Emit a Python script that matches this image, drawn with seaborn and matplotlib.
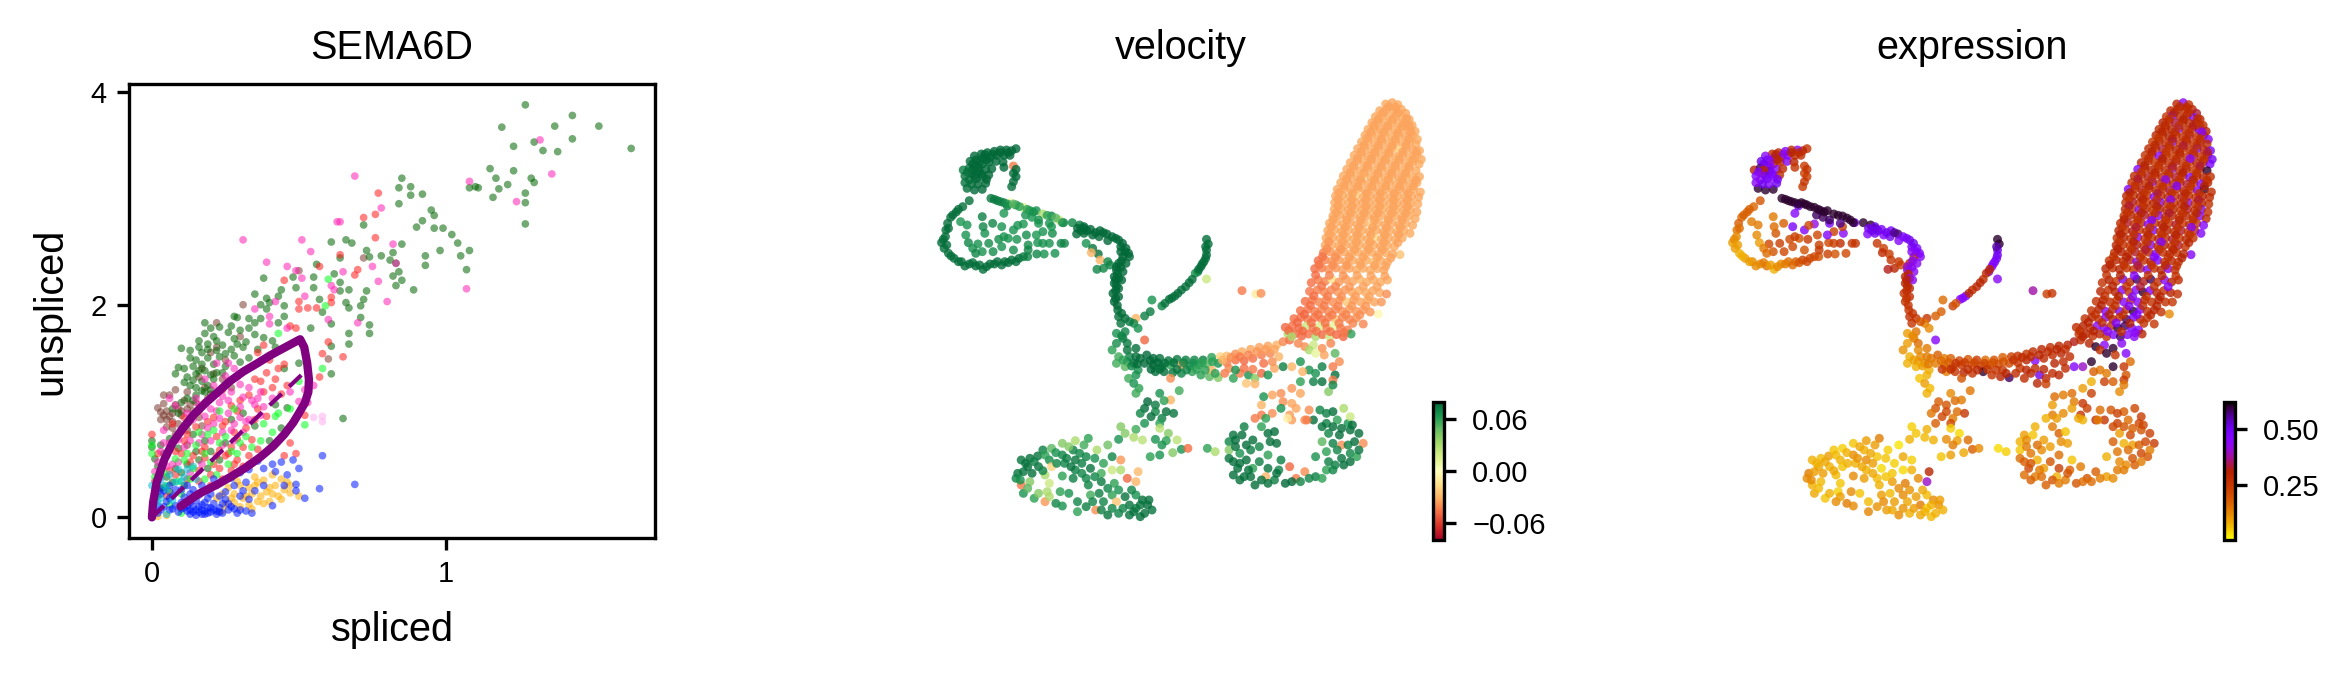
import numpy as np
import pandas as pd
import matplotlib
matplotlib.use("Agg")
import matplotlib.pyplot as plt
from matplotlib.cm import ScalarMappable
from matplotlib.colors import Normalize
import seaborn as sns

# phase portrait, one (spliced, unspliced) list per cell type
green_cells = [(1.27,3.88),(1.43,3.78),(1.19,3.67),(1.37,3.68),(1.52,3.68),(1.63,3.47),(1.23,3.49),(1.30,3.53),(1.43,3.56),(1.33,3.45),(1.38,3.44),(1.15,3.28),(1.23,3.26),(1.17,3.19),(1.29,3.19),(1.30,3.15),(1.21,3.13),(1.18,3.09),(1.08,3.10),(1.10,3.11),(1.11,3.10),(1.16,3.01),(1.27,3.05),(1.27,2.96),(1.27,2.76),
(.85,3.19),(.84,3.10),(.88,3.11),(.88,3.03),(.92,3.04),(.84,2.95),(.95,2.89),(.96,2.84),(.92,2.79),(.90,2.73),(.96,2.72),(.99,2.72),(1.02,2.66),(1.04,2.58),(1.08,2.51),(.98,2.51),(1.05,2.46),(.93,2.46),(.93,2.37),(1.07,2.33),(.72,2.75),(.85,2.57),(.82,2.49),(.73,2.51),(.74,2.45),(.78,2.46),(.81,2.42),(.83,2.39),(.84,2.31),(.82,2.27),(.85,2.23),(.83,2.18),(.89,2.14),
(.61,2.59),(.66,2.61),(.68,2.58),(.64,2.44),(.56,2.38),(.62,2.29),(.55,2.26),(.48,2.26),(.38,2.25),(.64,2.21),(.55,2.16),(.49,2.16),(.44,2.14),(.64,2.13),(.67,2.14),(.73,2.13),(.35,2.10),(.39,2.06),(.43,2.08),(.37,2.00),(.40,2.02),(.45,1.99),(.57,2.05),(.72,2.05),(.66,2.02),(.67,1.97),(.71,1.99),(.39,1.96),(.58,1.93),(.71,1.88),(.28,1.89),(.29,1.88),(.33,1.87),(.37,1.87),(.45,1.89),(.18,1.83),(.20,1.78),(.23,1.79),(.27,1.80),(.35,1.83),(.43,1.83),(.54,1.78),(.74,1.81),(.61,1.82),(.67,1.73),(.74,1.73),(.67,1.63),(.61,1.61),(.61,1.35),(.65,.93),
(.18,1.73),(.21,1.70),(.26,1.74),(.30,1.76),(.33,1.78),(.35,1.72),(.38,1.69),(.41,1.66),(.28,1.68),(.32,1.65),(.24,1.62),(.19,1.63),(.16,1.60),(.10,1.59),(.13,1.57),(.17,1.55),(.22,1.57),(.27,1.58),(.31,1.60),(.36,1.58),(.42,1.60),(.13,1.50),(.15,1.48),(.19,1.50),(.23,1.51),(.28,1.52),(.33,1.50),(.39,1.50),(.08,1.35),(.09,1.41),(.11,1.40),(.14,1.42),(.17,1.44),(.21,1.44),(.25,1.42),(.30,1.46),(.12,1.32),(.15,1.35),(.18,1.38),(.22,1.36),(.13,1.24),(.15,1.22),(.17,1.28),(.19,1.24),(.21,1.30),(.15,1.15),(.18,1.18),(.12,1.12),(.10,1.08),(.07,1.02),(.03,.68),(0,.66),(0,.72),(.01,.55),(.02,.48),(.06,.74),(.09,.65),(.14,.78),(.18,.72),(.16,.54),(.10,.42),(.07,.33),(.03,.27),(.20,.62),(.25,.70),(.42,1.06),(.46,1.03),(.45,1.40),(.50,1.45),
(.16,1.66),(.19,1.58),(.22,1.66),(.25,1.54),(.29,1.63),(.16,1.38),(.20,1.34),(.24,1.36),(.11,1.27),(.14,1.29),(.17,1.19),(.20,1.20),(.14,1.10),(.09,.98),(.12,.88),(.04,.60),(.08,.46),(.12,.50),(.15,.62),(.19,.46),(.23,.54),(.05,.38),(.02,.20),(.06,.24),(.11,.30),(.27,.92),(.31,.98),(.35,.86),(.40,.72),(.44,.84)]
pink_cells = [(.69,3.21),(1.08,3.16),(1.32,3.55),(1.36,3.23),(1.24,2.97),(.78,2.91),(.63,2.78),(.64,2.78),(.31,2.61),(.51,2.61),(.54,2.50),(.82,2.57),(.39,2.40),(.46,2.36),(.49,2.32),(.75,2.36),(.83,2.39),(.77,2.22),(1.07,2.15),(.80,2.03),(.51,2.25),(.61,2.18),(.65,2.31),(.62,2.14),(.52,2.08),(.42,2.03),(.35,1.96),(.40,1.89),(.60,1.86),(.70,1.83),(.40,1.82),(.46,1.78),
(.26,1.45),(.28,1.40),(.25,1.33),(.30,1.25),(.33,1.22),(.37,1.18),(.31,1.13),(.27,1.18),(.23,1.08),(.20,1.02),(.26,.98),(.30,1.04),(.35,1.06),(.41,1.12),(.47,1.18),(.52,1.20),(.55,1.24),(.50,1.09),(.53,1.08),(.37,.96),(.33,.92),(.28,.88),(.23,.93),(.18,.95),(.14,.92),(.10,.82),(.06,.70),(.04,.82),(.03,.62),(.01,.43),(.03,.38),(.07,.50),(.11,.66),(.16,.70),(.19,.84),(.24,.80),(.28,.72),(.31,.80),(.15,1.12),(.18,1.30),(.21,1.24),(.22,1.45),(.06,1.12),(.08,1.05),
(.29,1.32),(.34,1.10),(.24,1.14),(.21,.88),(.27,.82),(.32,.90),(.17,.78),(.13,.72),(.09,.73),(.05,.48),(.12,.98),(.16,1.06),(.20,.72),(.24,.68),(.09,.52),(.13,.42),(.17,.50),(.04,.70),(.02,.52),(.36,1.12),(.38,1.04),(.30,.94),(.26,1.10),(.22,1.00)]
red_cells = [(.77,3.05),(.72,2.82),(.76,2.85),(.76,2.63),(.64,2.47),(.70,2.33),(.69,2.28),(.57,2.36),(.45,2.23),(.61,2.07),(.61,2.02),(.50,2.03),(.50,1.96),(.53,1.97),(.56,1.97),(.49,1.78),(.47,1.80),(.60,1.65),(.58,1.54),(.65,1.51),(.57,1.32),(.45,1.44),(.43,1.40),(.47,.70),(.49,.60),(.45,.58),(.52,.96),(0,.78),
(.38,1.62),(.36,1.55),(.40,1.48),(.46,1.24),(.42,1.30),(.39,1.36),(.37,1.28),(.41,1.22),(.44,1.16),(.38,1.18),(.35,1.30),(.33,1.15),(.30,1.10),(.27,1.05),(.36,1.02),(.39,.95),(.32,.84),(.28,.80),(.24,.86),(.22,.76),(.19,.90),(.15,.85),(.12,.78),(.10,.60),(.13,.52),(.18,.56),(.21,.50),(.25,.58),(.29,.54),(.33,.58),(.31,.48),(.27,.44),(.23,.63),(.20,.40),(.16,.44),(.08,.40),(.05,.58),(.02,.60),(.01,.34),(.05,.20),(.27,.66),(.34,.73),(.07,.88),(.16,1.00),(.24,1.20),(.11,.94),
(.21,.94),(.25,.90),(.29,.74),(.26,.60),(.22,.58),(.18,.66),(.14,.58),(.11,.72),(.08,.62),(.06,.44),(.12,.36),(.16,.34),(.20,.30),(.24,.36),(.28,.50),(.33,.50),(.36,.64),(.31,.66),(.35,.92),(.29,1.00),(.18,1.08),(.14,.96),(.23,.46),(.17,.62)]
brown_cells = [(.31,2.00),(.50,2.32),(.72,2.44),(.60,1.49),(.22,1.83),(.04,1.07),(.02,1.03),(.03,.99),(.05,1.00),(.07,.98),(.09,1.02),(.06,1.15),(.04,1.15),(.08,1.20),(.05,.92),(.07,.90),(.09,.88),(.05,.85),(.03,.92),(.11,1.10),(.13,1.06),(.14,1.00),(.10,.96),(.12,1.18),(.17,1.40),(.20,1.55),(.22,1.60),(.25,1.48),(.16,.94),(.19,1.12),(.27,1.22),(.30,1.70),(.12,.68),(.08,.78),(.04,.28),
(.06,.95),(.08,1.06),(.10,1.00),(.12,1.02),(.15,1.08),(.18,1.22),(.21,1.35),(.16,1.32),(.04,.96),(.07,.84),(.13,.90),(.17,.86),(.20,1.16),(.24,1.30),(.12,.82)]
lime_cells = [(.58,1.40),(.59,1.99),(.60,2.24),(.52,.87),(.43,1.73),(0,.68),(0,.60),(.01,.38),(.04,.42),(.08,.55),(.12,.60),(.15,.68),(.19,.78),(.23,.70),(.27,.62),(.30,.70),(.34,.66),(.37,.72),(.38,.88),(.41,.80),(.43,.98),(.47,1.02),(.50,1.28),(.42,.95),(.26,.50),(.22,.40),(.18,.36),(.13,.36),(.10,.22),(.06,.12),(.10,.04),(.28,1.02),(.23,1.00),(.16,.80),
(.21,.82),(.25,.76),(.18,.60),(.14,.46),(.09,.34),(.29,.60),(.32,.76),(.11,.54),(.05,.30),(.20,.52)]
gold_cells = [(.30,.30),(.33,.28),(.36,.33),(.39,.24),(.42,.30),(.44,.36),(.45,.26),(.43,.20),(.40,.15),(.37,.20),(.34,.22),(.31,.18),(.28,.22),(.26,.28),(.28,.14),(.30,.10),(.33,.12),(.36,.15),(.25,.12),(.47,.23),(.50,.20),(.41,.40),(.46,.33),(.35,.38),(.24,.06),(.22,.18),(.29,.34),(.05,.02),(.02,.01),(.38,.13),
(.32,.20),(.35,.30),(.38,.35),(.41,.22),(.44,.17),(.47,.30),(.27,.18),(.24,.22),(.34,.08),(.40,.28)]
blue_cells = [(.58,.58),(.69,.31),(.57,.27),(.52,.18),(.50,.46),(.48,.54),(.49,.25),(.49,.31),(.41,.11),(.34,.04),(.41,.50),(.38,.46),(.42,.43),(.46,.40),(.44,.52),(.36,.53),(.33,.45),(.30,.42),(.27,.37),(.32,.33),(.35,.25),(.38,.30),(.45,.30),(.31,.25),(.28,.30),(.25,.24),(.22,.30),(.19,.26),(.17,.30),(.14,.26),(.12,.30),(.10,.14),(.08,.26),(.06,.18),(.04,.10),(.02,.04),(0,.02),(.01,.16),(.03,.22),(.07,.08),(.09,.05),(.11,.09),(.13,.03),(.14,.10),(.16,.05),(.17,.12),(.18,.03),(.19,.09),(.20,.05),(.21,.13),(.22,.03),(.23,.09),(.24,.04),(.25,.17),(.26,.07),(.27,.10),(.29,.04),(.30,.07),(.32,.06),(.15,.16),(.19,.18),(.13,.14),(.16,.21),(.11,.19),(.06,.30),(.02,.28),(.33,.17),(.21,.36),(.12,.06),(.15,.02),(.17,.07),
(.13,.07),(.15,.07),(.16,.10),(.18,.06),(.19,.04),(.20,.09),(.21,.07),(.22,.06),(.23,.05),(.17,.03),(.14,.05),(.12,.11),(.10,.08),(.08,.11),(.06,.07),(.05,.15),(.03,.07),(.02,.11),(.01,.05),(.24,.13),(.26,.13),(.28,.08),(.30,.20),(.18,.14),(.20,.22),(.23,.20),(.10,.26),(.13,.22),(.07,.20),(.04,.25)]
teal_cells = [(0,.30),(.01,.24),(.02,.14),(.03,.36),(.04,.30),(.06,.40),(.09,.45),(.11,.38),(.12,.45),(.05,.03),(.15,.36),(.08,.33),(.14,.48),(.03,.18),(.05,.26),(.07,.16),(.10,.34),(.02,.34)]
pale_cells = [(.58,.95),(.55,.94),(.58,.90),(.52,1.08)]

cell_colors = {"brown": "#7a3b2e", "green": "darkgreen", "red": "#ff1a1a", "pink": "#ff1fb4", "lime": "#00ff1a",
               "gold": "#ffae00", "blue": "#0018ff", "teal": "#00bcd4", "pale": "#ffb0f0"}

# learned dynamics of the gene
fit_spliced = [0,.004,.016,.043,.07,.103,.14,.184,.225,.265,.31,.359,.40,.44,.504,.518,.528,.534,.532,.52,.50,.48,.45,.413,.37,.319,.27,.224,.157,.097]
fit_unspliced = [0,.14,.33,.55,.70,.83,.96,1.08,1.18,1.28,1.37,1.45,1.52,1.58,1.675,1.60,1.45,1.295,1.18,1.076,.98,.889,.78,.671,.57,.468,.385,.312,.218,.103]
steady_spliced = [0,.52]
steady_unspliced = [0,1.37]

# umap cells: (umap1, umap2, velocity x1000, expression x100), umap2 runs downward
tip_cells = [(1122,72,-33,30),(1137,68,-34,44),(1150,74,-32,27),(1108,92,-33,29),(1124,88,-34,31),(1141,90,-33,27),(1158,88,-33,30),(1168,100,-34,33),
(1098,110,-33,26),(1113,106,-32,45),(1130,110,-33,29),(1146,106,-34,28),(1160,112,-33,46),(1176,118,-33,30),(1090,128,-33,31),(1104,124,-34,28),(1119,128,-33,34),(1136,126,-32,27),(1151,130,-33,29),(1167,128,-34,31),(1183,136,-33,27),
(1081,148,-33,29),(1096,144,-33,26),(1110,148,-34,30),(1127,146,-33,44),(1143,150,-33,29),(1159,146,-32,27),(1174,150,-33,48),(1190,154,-33,31),(1074,166,-33,30),(1089,164,-34,27),(1104,168,-33,31),(1120,165,-31,26),(1136,170,-33,28),(1152,166,-33,33),(1168,170,-34,27),(1184,166,-33,30),(1195,178,-33,46),
(1066,186,-33,25),(1081,184,-33,31),(1097,188,-33,28),(1113,185,-34,44),(1129,189,-33,26),(1145,186,-32,30),(1161,190,-33,27),(1177,187,-33,32),(1192,192,-33,28),(1057,206,-33,29),(1073,204,-34,27),(1089,208,-33,33),(1105,205,-33,27),(1121,209,-33,31),(1137,205,-33,25),(1153,210,-22,28),(1169,206,-33,46),(1185,210,-34,30),(1200,212,-33,48),
(1049,226,-33,27),(1065,224,-33,30),(1081,228,-34,45),(1097,225,-33,28),(1113,229,-33,26),(1129,225,-33,31),(1145,230,-32,27),(1161,226,-33,34),(1177,230,-33,28),(1193,226,-33,31),(1204,238,-33,49),(1040,248,-33,30),(1056,244,-34,28),(1072,248,-33,26),(1088,245,-33,31),(1104,249,-33,27),(1120,245,-34,33),(1136,250,-33,27),(1152,246,-33,25),(1168,250,-33,31),(1184,246,-32,29),(1199,252,-33,47),
(1032,268,-33,45),(1048,266,-33,28),(1064,270,-33,31),(1080,266,-34,26),(1096,270,-33,29),(1112,266,-33,44),(1128,271,-33,28),(1144,267,-33,32),(1160,271,-33,26),(1176,267,-34,30),(1192,272,-33,60),(1024,288,-33,29),(1040,286,-34,27),(1056,290,-33,32),(1072,286,-22,26),(1088,291,-33,30),(1104,287,-33,27),(1120,291,-33,33),(1136,287,-33,27),(1152,292,-34,48),(1168,288,-33,28),(1184,292,-33,31),(1200,290,-33,27),
(1018,308,-33,27),(1034,306,-33,31),(1050,310,-34,27),(1066,306,-33,44),(1082,311,-33,28),(1098,307,-33,26),(1114,311,-33,31),(1130,307,-32,28),(1146,312,-33,33),(1162,308,-33,26),(1178,312,-33,46),(1194,308,-33,29),(1010,328,-33,46),(1026,326,-33,28),(1042,330,-33,32),(1058,326,-34,26),(1074,331,-33,29),(1090,327,-33,27),(1106,331,-33,34),(1122,327,-33,27),(1138,332,-33,30),(1154,328,-33,26),(1170,332,-34,46),(1186,328,-33,60),(1202,336,-33,28),
(1006,348,-33,30),(1022,346,-33,27),(1038,350,-33,31),(1054,346,-22,27),(1070,351,-33,45),(1086,347,-33,27),(1102,351,-34,30),(1118,347,-33,26),(1134,352,-33,32),(1150,348,-33,28),(1166,352,-33,26),(1182,348,-33,31),(1198,352,-34,29),(1004,368,-33,27),(1020,366,-33,33),(1036,370,-33,28),(1052,366,-33,26),(1068,371,-34,31),(1084,367,-33,47),(1100,371,-33,28),(1116,367,-33,26),(1132,372,-33,30),(1148,368,-33,44),(1164,372,-34,27),(1180,368,-33,31),(1196,372,-33,27),
(1003,388,-33,29),(1019,386,-33,27),(1035,390,-34,45),(1051,386,-33,30),(1067,391,-33,26),(1083,387,-33,32),(1099,391,-33,27),(1115,387,-32,30),(1131,392,-33,26),(1147,388,-33,33),(1163,392,-33,27),(1179,388,-33,48),(1194,396,-34,27),(1000,408,-33,26),(1016,406,-34,31),(1032,410,-33,27),(1048,406,-33,33),(1064,411,-33,27),(1080,407,-33,46),(1096,411,-34,28),(1112,407,-33,31),(1128,412,-33,26),(1144,408,-33,30),(1160,412,-33,27),(1176,408,-33,46),(1190,416,-33,29),
(992,430,-33,28),(1008,428,-33,33),(1024,432,-33,26),(1040,428,-34,30),(1056,433,-33,44),(1072,429,-33,27),(1088,433,-22,31),(1104,429,-33,27),(1120,434,-33,33),(1136,430,-33,26),(1152,434,-34,30),(1168,430,-33,27),(1184,436,-33,45),(988,452,-33,30),(1004,450,-33,27),(1020,454,-34,32),(1036,450,-33,26),(1052,455,-33,29),(1068,451,-33,46),(1084,455,-33,27),(1100,451,-33,31),(1116,456,-34,27),(1132,452,-33,33),(1148,456,-33,26),(1164,452,-33,30),(1178,460,-33,46),
(984,474,-33,27),(1000,472,-34,31),(1016,476,-33,27),(1032,472,-33,45),(1048,477,-33,28),(1064,473,-33,26),(1080,477,-33,31),(1096,473,-20,28),(1112,478,-33,33),(1128,474,-33,26),(1144,478,-33,30),(1160,474,-33,27),(982,496,-33,30),(998,494,-33,27),(1014,498,-33,26),(1030,494,-34,32),(1046,499,-33,27),(1062,495,-33,45),(1078,499,-33,28),(1094,495,-33,31),(1110,500,-34,27),(1126,496,-33,33),(1142,500,-33,26),(1155,524,-26,46),
(978,518,-42,27),(994,516,-38,31),(1010,520,-36,27),(1026,516,-34,33),(1042,521,-33,27),(1058,517,-33,30),(1074,521,-33,45),(1090,517,-33,27),(1106,522,-33,31),(1122,518,-33,26),(1138,522,-34,30),(966,542,-48,26),(982,540,-42,30),(998,544,-38,27),(1014,540,-36,32),(1030,545,-34,44),(1046,541,-33,27),(1062,545,-33,31),(1078,541,-33,48),(1094,546,-26,27),(1110,542,-33,30),(1126,546,-33,27),
(958,566,-48,30),(974,564,-44,27),(990,568,-40,31),(1006,564,-38,26),(1022,569,-36,27),(1038,565,-34,33),(1054,569,-33,48),(1070,565,-33,27),(1086,570,-33,31),(1102,566,-33,45),(1118,570,-34,27),(950,608,-48,27),(966,600,-44,31),(982,604,-42,26),(998,598,-16,48),(1014,606,-38,30),(1030,598,-36,58),(1046,604,-34,32),(1062,598,-30,58),(1078,606,-33,27),(1094,600,-33,44),(1110,606,-33,31),(1126,600,-33,28),
(946,634,-46,30),(964,630,-44,27),(980,636,-42,31),(996,630,-42,46),(1012,636,-38,27),(1028,630,-38,45),(1044,636,-34,60),(1060,632,-33,46),(1076,638,-33,30),(1092,632,-34,27),(1108,638,-33,31),(1124,642,-40,27),(936,664,-48,27),(952,660,-44,31),(968,666,-42,28),(984,660,-42,27),(1000,666,-40,45),(1016,660,-40,27),(1032,666,-24,46),(1048,660,-36,30),(1064,666,-34,27),(1080,660,-33,31),(1096,666,-34,27),(1112,666,-38,26),(1105,702,-4,12),
(925,692,-48,27),(942,688,-46,31),(958,694,-44,45),(974,688,-42,30),(990,694,-42,47),(1006,688,-42,28),(1022,694,-40,60),(1038,688,-38,46),(1054,694,-38,27),(1070,690,-38,31),(1086,696,-38,27),(910,716,-48,27),(926,712,-48,30),(942,718,-46,27),(958,712,-46,46),(974,718,-46,31),(990,712,-44,27),(1006,718,-28,58),(1022,712,-42,47),(1038,718,-42,30),(1054,714,-40,27),(1070,732,-42,26),
(890,742,-50,28),(906,738,-48,31),(922,744,-50,27),(938,738,20,44),(954,744,-46,46),(970,738,15,28),(986,744,-44,60),(1002,738,10,58),(1018,744,-46,48),(1034,750,-44,46),(1042,762,60,30),(896,762,30,27),(912,762,-50,31),(928,768,-50,27),(944,762,-48,30),(960,770,30,27),(976,764,-50,46),(992,770,20,58),(1008,764,-50,46),(1024,770,-50,44)]
tip_extra = [(1129,80,-35,28),(1145,82,-35,29),(1116,98,-35,30),(1150,98,-35,28),(1105,117,-35,27),(1138,118,-35,31),(1170,116,-35,28),(1095,136,-35,29),(1127,137,-35,27),(1160,138,-35,32),(1176,138,-35,27),(1088,155,-35,30),(1118,156,-35,28),(1150,158,-35,27),(1180,156,-35,44),(1080,174,-35,26),(1112,176,-35,31),(1144,178,-35,28),(1176,176,-35,27),
(1072,195,-35,29),(1105,196,-35,27),(1137,197,-35,33),(1169,196,-35,28),(1065,215,-35,30),(1097,216,-35,26),(1129,217,-35,29),(1161,216,-35,27),(1193,216,-35,33),(1057,235,-35,28),(1089,236,-35,31),(1121,237,-35,27),(1153,236,-35,44),(1185,238,-35,27),(1048,257,-35,31),(1080,256,-35,27),(1112,258,-35,30),(1144,257,-35,27),(1176,258,-35,33),
(1040,277,-35,27),(1072,278,-35,30),(1104,279,-35,27),(1136,278,-35,31),(1168,279,-35,27),(1032,297,-35,33),(1064,298,-35,27),(1096,299,-35,44),(1128,298,-35,27),(1160,299,-35,30),(1192,300,-35,27),(1026,317,-35,27),(1058,318,-35,31),(1090,319,-35,27),(1122,318,-35,46),(1154,319,-35,27),(1186,318,-35,31),
(1014,338,-35,31),(1046,339,-35,27),(1078,340,-35,33),(1110,339,-35,27),(1142,340,-35,30),(1174,340,-35,27),(1012,358,-35,27),(1044,359,-35,30),(1076,360,-35,27),(1108,359,-35,44),(1140,360,-35,27),(1172,360,-35,33),(1012,378,-35,33),(1044,379,-35,27),(1076,380,-35,30),(1108,379,-35,27),(1140,380,-35,31),(1172,380,-35,27),
(1008,398,-35,27),(1040,399,-35,31),(1072,400,-35,27),(1104,399,-35,33),(1136,400,-35,27),(1168,400,-35,30),(1000,419,-35,31),(1032,420,-35,27),(1064,421,-35,46),(1096,420,-35,27),(1128,421,-35,30),(1160,420,-35,27),(996,441,-35,27),(1028,442,-35,33),(1060,443,-35,27),(1092,442,-35,31),(1124,443,-35,27),(1156,442,-35,44),
(992,463,-35,31),(1024,464,-35,27),(1056,465,-35,30),(1088,464,-35,27),(1120,465,-35,31),(1152,464,-35,27),(990,485,-38,27),(1022,486,-35,31),(1054,487,-35,27),(1086,486,-35,46),(1118,487,-35,27),(1150,488,-35,30),(986,507,-40,31),(1018,508,-37,27),(1050,509,-35,33),(1082,508,-35,27),(1114,509,-35,30),(976,530,-46,27),(1006,531,-40,31),(1038,532,-36,27),(1070,531,-35,46),(1102,532,-35,27),(1134,534,-35,31),
(968,554,-46,31),(1000,555,-40,27),(1032,556,-37,33),(1064,555,-35,27),(1096,556,-35,30),(1122,558,-35,27),(960,585,-48,27),(992,586,-42,31),(1024,587,-38,46),(1056,586,-35,27),(1088,587,-35,31),(1120,588,-35,27),(974,618,-46,31),(1006,619,-42,27),(1038,620,-38,33),(1070,619,-35,27),(1102,620,-35,46),(956,648,-48,27),(988,649,-44,31),(1020,650,-40,46),(1052,649,-36,27),(1084,650,-35,31),
(948,676,-48,31),(980,677,-44,27),(1012,678,-42,46),(1044,677,-38,27),(1076,678,-38,30),(934,703,-50,27),(966,704,-46,31),(998,705,-44,27),(1030,704,-42,46),(1062,705,-40,30),(918,727,-50,31),(950,728,-48,27),(982,729,-46,46),(1014,730,-44,31),(1046,730,-42,27),(898,752,-50,27),(930,753,-50,31),(962,754,-48,46),(994,755,-48,27),(1026,758,-46,44)]
head_cells = [(268,206,80,26),(258,212,80,30),(246,210,80,44),(232,210,80,28),(218,214,80,46),(202,218,80,30),(188,222,80,28),(172,228,80,44),(162,244,78,50),(176,240,80,48),(192,234,80,46),(208,232,80,30),(224,226,80,44),(240,226,80,26),(254,226,80,28),(146,270,72,30),(160,264,76,58),(175,258,80,46),(190,252,80,30),(206,246,80,28),(222,244,80,46),(238,246,78,30),(262,258,-45,25),(150,288,76,46),(166,280,80,28),(182,274,80,60),(198,268,80,46),(212,266,80,28),(240,262,80,26),(262,280,78,24),(268,290,80,24),(160,300,78,44),(176,296,80,50),(190,290,80,48),(205,285,80,28),(262,305,78,26),(258,320,78,25),(155,325,78,60),(172,330,80,60),(190,328,80,60),(198,310,80,50),(180,312,80,46),
(196,224,80,30),(214,222,80,44),(232,218,80,30),(250,218,80,28),(184,246,80,44),(200,240,80,30),(168,252,80,50),(182,264,80,46),(168,270,80,30),(156,276,76,46),(172,288,80,48),(188,282,80,46),(165,312,78,50),(200,298,80,48),(268,268,80,26),(150,308,76,44)]
ring_cells = [(160,362,78,20),(145,380,78,17),(130,396,78,18),(117,412,78,17),(110,430,78,18),(106,450,78,15),(105,470,78,12),(96,488,78,10),(102,505,78,10),(112,520,78,8),(125,535,78,10),(142,545,78,12),(160,552,78,13),(175,558,78,15),(192,568,78,8),(208,552,78,12),(225,545,78,16),(242,545,78,18),(258,540,78,24),(275,535,78,22),(295,530,70,20),(316,522,70,24),(333,522,66,20),(358,520,66,22),(372,490,70,26),(345,490,66,28),(318,488,66,22),(296,495,68,24),(270,478,66,25),(250,475,66,20),(228,478,68,22),(205,490,68,24),(180,492,66,22),(158,488,70,10),(152,465,66,12),(196,460,66,20),(214,430,70,18),(192,440,70,16),(190,410,72,14),(155,435,66,14),(140,425,64,14),(240,400,64,45),(235,440,66,48),(262,450,66,46),(285,432,64,42),(272,436,66,22),(320,430,64,48),(330,455,66,24),(352,460,68,44),(378,428,70,48),(315,465,64,46),(350,440,64,24),(292,465,68,22),(235,500,66,22),(262,510,68,20),(190,515,66,20),(215,515,68,22),(296,510,70,25),(168,505,66,14),
(135,388,78,18),(122,405,78,18),(112,445,78,16),(100,478,78,12),(108,495,78,10),(118,528,78,8),(135,545,78,10),(150,558,78,12),(168,548,78,14),(184,555,78,10),(200,560,78,12),(218,552,78,14),(235,555,78,16),(250,548,78,20),(268,545,78,22),(285,530,74,22),(380,490,70,26),(330,490,66,24),(240,470,66,24),(175,520,70,16)]
band_cells = [(210,355,74,60),(225,362,76,60),(240,368,74,60),(255,368,5,60),(268,375,70,60),(285,382,15,60),(300,392,70,60),(315,392,66,60),(330,402,30,60),(350,408,70,60),(368,420,20,60),(248,378,74,50),(290,405,66,58),(320,420,66,58),(345,430,66,56),(305,412,64,58),(375,428,66,60),(398,428,70,60),(415,435,74,60),(425,445,78,60),(218,358,74,60),(232,365,72,60),(248,372,66,60),(262,372,50,60),(276,380,60,60),(294,388,60,60),(308,396,66,60),(340,406,60,60),(360,414,50,60)]
neck_cells = [(410,445,80,50),(425,440,80,50),(440,448,80,48),(408,462,80,46),(425,460,80,50),(445,465,80,46),(462,452,80,48),(478,462,80,58),(460,470,80,50),(490,470,80,48),(505,480,80,50),(480,482,80,46),(510,500,80,48),(520,515,80,48),(530,530,80,45),(515,530,80,28),(522,550,80,44),(505,550,80,30),(500,570,80,46),(515,575,80,44),(495,590,80,30),(512,600,80,44),(495,610,80,30),(505,625,80,30),(492,640,80,26),(505,650,80,28),(495,665,80,26),(503,690,78,26),(505,710,78,27),(520,715,78,26),(510,730,76,26),(430,490,66,26),(445,505,76,24),(458,522,78,25),(462,540,-30,26),(480,545,70,26),(470,565,70,30),(455,568,70,32),(485,555,70,24),(442,518,-30,28),
(432,452,80,50),(418,452,80,50),(452,458,80,50),(470,458,80,56),(498,475,80,48),(514,490,80,50),(522,505,80,48),(510,515,80,45),(528,520,80,46),(512,542,80,44),(500,560,80,40),(510,562,80,44),(502,582,80,30),(505,595,80,40),(498,600,80,30),(500,618,80,30),(498,632,80,28),(502,676,80,26),(498,655,80,26),(512,700,78,26)]
branch_cells = [(708,478,78,60),(712,492,78,60),(708,510,78,50),(708,525,78,50),(702,545,78,48),(695,560,78,46),(688,575,78,48),(682,580,66,28),(708,597,20,44),(675,598,78,28),(660,620,78,30),(650,630,78,28),(635,648,76,46),(622,658,78,46),(605,678,70,24),(582,660,66,16),(578,695,74,18),(565,708,72,18),(545,715,-30,26),(540,730,70,14),(550,745,66,12),(530,725,74,20),(706,500,78,55),(706,535,78,48),(698,552,78,46),(690,568,78,30),(668,608,78,30),(642,640,78,30),(628,654,78,46),(612,670,76,20)]
junction_cells = [(500,760,66,10),(520,755,70,15),(515,775,74,14),(500,790,68,10),(525,790,74,16),(490,810,60,11),(525,810,76,12),(545,805,78,14),(505,830,56,8),(525,845,66,10),(500,850,56,8),(540,850,78,12),(555,835,78,15),(565,780,-50,45),(520,860,50,8),(550,870,66,8),(530,830,70,12),(545,830,78,14),(515,840,60,10),(535,858,70,10),(548,852,78,14),(512,768,70,12)]
arc_cells = [(570,825,80,18),(585,835,80,14),(600,835,78,18),(620,842,76,22),(640,838,74,20),(660,840,72,24),(680,840,70,16),(700,840,72,20),(720,832,60,18),(740,830,-20,24),(755,828,-28,26),(775,822,-40,26),(790,815,-32,28),(810,808,-34,30),(830,802,-35,28),(850,798,-34,30),(870,795,-30,30),(885,785,-42,32),(900,780,-48,28),
(565,850,80,14),(585,855,80,16),(605,860,78,24),(625,855,60,26),(650,855,-36,22),(670,858,70,24),(690,855,60,20),(710,852,50,22),(735,850,66,22),(755,848,-45,26),(775,840,-48,30),(795,842,-50,45),(815,835,-48,28),(835,825,-45,28),(855,820,-42,30),(875,830,-30,28),
(590,875,78,14),(610,875,78,26),(630,878,76,30),(650,880,70,26),(675,875,60,60),(695,885,60,26),(715,890,50,30),(735,893,40,58),(750,880,-45,28),(770,895,60,28),(785,880,-45,30),(805,885,66,50),(820,895,40,30),(835,880,-50,28),(850,885,66,30),(865,865,-35,28),(885,860,72,46),(905,860,-30,40),(720,870,-30,26),(625,895,-40,20),(760,865,-42,26),(800,910,-25,30),(820,912,-30,24),
(905,770,30,30),(920,790,-42,30),(935,800,-40,60),(955,795,20,44),(975,805,-40,60),(995,790,-42,44),(925,845,66,60),(945,810,30,28),(960,820,10,60),(980,825,-35,26),(1005,820,50,46),(1015,845,-40,16),(1000,860,-45,26),(945,870,66,15),(975,860,72,60),(930,875,-30,18),(960,880,66,14),(1005,885,78,20),(975,905,78,18),(955,905,72,24),(1000,900,-45,25),(990,935,40,12),(1000,915,70,14),
(578,842,80,16),(595,848,80,18),(612,850,78,26),(632,848,76,24),(655,848,70,22),(678,850,66,22),(698,848,60,20),(722,845,60,20),(745,840,-30,26),(765,832,-40,28),(785,830,-45,28),(805,825,-42,30),(825,815,-38,28),(845,808,-36,30),(865,808,-34,28),(580,868,80,26),(600,868,78,28),(640,868,76,28),(662,870,70,30),(685,868,60,26),(705,870,60,26),(728,880,60,30),(775,870,66,30),(795,865,-48,28),(815,868,-45,30),(840,850,-48,30),(860,845,-40,28)]
mid_cells = [(528,895,56,6),(545,885,66,8),(540,910,66,10),(552,925,60,7),(545,940,56,8),(625,960,-30,14),(645,932,56,15),(600,940,66,12),(572,965,80,18),(590,975,74,20),(610,962,60,16),(565,985,78,20),(590,995,70,22),(615,995,78,16),(632,1000,76,26),(555,1000,70,15),(580,1010,78,22),(605,1015,72,14),(565,1030,66,18),(600,1030,60,22),(510,1040,40,5),(545,1048,56,8),(520,1060,40,6),(505,1078,66,8),(540,1072,30,7),(560,1080,25,8),(600,1045,26,5),(620,1060,40,4),(590,1078,66,12),(615,1082,60,10),(640,1080,25,16),(605,1095,66,14),(650,1108,66,18),(665,1105,-48,12),(630,1118,40,9),(600,1125,66,10),(578,1130,60,6),(710,1105,60,4),(728,1115,30,5),(790,632,-45,38),(822,642,-10,24),(834,640,-40,26)]
south_cells = [(272,1180,76,14),(268,1195,70,12),(280,1140,76,8),(300,1135,78,7),(318,1128,76,10),(330,1110,72,6),(350,1105,50,5),(375,1090,40,6),(405,1082,30,10),(435,1075,60,14),(425,1095,56,10),(400,1110,72,8),(375,1125,70,12),(345,1140,68,8),(320,1160,76,8),(295,1160,78,9),(305,1180,78,10),(335,1185,30,7),(350,1160,-20,6),(380,1150,70,8),(405,1140,76,12),(430,1130,70,6),(455,1110,30,5),(480,1095,45,3),(490,1130,70,9),(470,1150,60,5),(440,1165,76,4),(405,1170,72,8),(375,1188,60,12),(400,1195,72,10),(430,1195,70,7),(465,1180,56,6),(490,1170,20,4),(510,1140,-38,5),(510,1170,30,8),(550,1175,-28,30),(525,1195,-50,12),(545,1205,-30,40),(495,1210,60,14),(465,1205,74,10),(435,1215,70,8),(460,1240,72,7),(490,1245,60,12),(520,1250,76,10),(545,1245,66,7),(470,1265,70,10),(500,1265,-25,9),(530,1275,76,14),(560,1260,78,12),(572,1275,78,11),(582,1290,76,8),(555,1310,78,7),(530,1305,76,9),(505,1300,70,8),(480,1305,76,12),(452,1290,-40,10),(430,1280,72,11),(410,1265,70,7),(390,1240,66,6),(370,1235,60,12),(340,1235,30,5),(280,1215,-45,8),(285,1240,66,9),(310,1255,60,6),(335,1265,-38,12),(360,1270,70,14),(375,1278,66,12),(410,1295,60,13),(300,1205,40,7),(345,1210,20,6),(440,1245,56,10),(545,1285,72,5),
(290,1150,76,8),(310,1145,72,9),(335,1125,60,7),(360,1118,66,8),(390,1100,40,9),(415,1120,70,9),(385,1135,72,11),(362,1150,70,8),(330,1172,70,9),(285,1175,76,10),(278,1200,66,12),(395,1160,76,9),(420,1150,72,10),(450,1135,66,6),(420,1180,70,9),(450,1190,70,6),(480,1225,70,12),(505,1230,66,11),(535,1230,70,9),(555,1275,76,8),(565,1300,78,8),(540,1295,76,8),(515,1285,70,10),(490,1285,70,11),(465,1290,72,9),(445,1265,70,12),(575,1260,76,10),(295,1225,50,7),(320,1240,40,8),(345,1250,30,10)]
east_cells = [(770,1065,76,10),(760,1085,70,8),(795,1040,72,8),(790,1065,78,6),(815,1080,78,10),(835,1040,60,14),(850,1060,78,18),(865,1055,78,6),(855,1085,78,12),(830,1100,70,10),(810,1110,72,12),(760,1110,40,6),(785,1120,66,15),(760,1135,76,16),(800,1140,78,8),(830,1145,72,20),(815,1165,60,10),(780,1165,78,22),(770,1185,78,16),(795,1190,78,14),(820,1215,78,18),(850,1165,76,24),(875,1170,70,18),(900,1160,-50,14),(845,1190,-30,8),(865,1200,72,14),(890,1210,80,20),(915,1195,-45,20),(935,1175,-40,18),(960,1190,72,10),(985,1170,60,14),(1005,1155,72,12),(1025,1155,78,18),(1040,1120,70,22),(1070,1090,-40,25),(1055,1130,60,20),(1060,1060,78,24),(1040,1050,78,20),(1020,1095,-40,10),(985,1115,60,15),(1000,1090,72,8),(975,1085,50,18),(990,1060,70,10),(1015,1065,78,22),(1035,1030,66,22),(1010,1020,60,16),(985,1030,72,24),(955,1020,78,26),(935,1020,-40,28),(970,990,70,20),(1000,995,78,18),(1025,985,30,22),(1040,1010,20,24),(960,1130,66,8),(880,1140,72,6),(850,1125,60,16),(925,1205,70,16),(990,1145,72,12),(1060,1110,76,14),
(775,1080,78,12),(800,1095,78,16),(775,1100,78,14),(770,1145,78,18),(785,1150,78,20),(805,1170,78,14),(785,1200,78,18),(810,1190,78,16),(835,1200,78,20),(850,1210,78,14),(870,1180,78,20),(905,1205,80,16),(945,1195,70,14),(975,1195,60,12),(1000,1170,70,14),(1020,1135,76,20),(1035,1095,72,18),(1050,1085,78,22),(1045,1035,78,22),(1020,1045,78,18),(1000,1040,78,20),(975,1040,76,22),(985,1000,72,24),(1010,1110,70,16),(1040,1145,78,14),(870,1090,78,10),
(840,950,66,16),(835,975,-30,10),(860,945,-35,14),(880,940,-40,16),(905,925,-38,10),(925,905,60,8),(885,965,-40,14),(925,940,-34,24),(905,970,-34,26),(915,985,-34,24),(900,1005,-36,26),(880,985,66,10),(860,1000,-40,12),(835,1005,-45,14),(820,1015,-45,8),(845,1015,60,10),(905,1020,-36,8),(895,1015,-8,9),(945,990,-40,16),(940,1020,-45,14)]
umap_groups = [tip_cells, tip_extra, head_cells, ring_cells, band_cells, neck_cells, branch_cells, junction_cells, arc_cells, mid_cells, south_cells, east_cells]

velocity_ticks = [-0.06, 0.0, 0.06]
velocity_labels = ["\u22120.06", "0.00", "0.06"]
expression_ticks = [0.25, 0.50]
expression_labels = ["0.25", "0.50"]

sns.set_style("ticks")
plt.rcParams["font.family"] = ["Liberation Sans", "DejaVu Sans"]
plt.rcParams["axes.linewidth"] = 0.8
for key in ["text.color", "axes.labelcolor", "xtick.color", "ytick.color", "axes.edgecolor"]:
    plt.rcParams[key] = "black"

W, H = 2351, 679
DPI = 300


def place(fig, left, right, top, bottom):
    return fig.add_axes([left / W, 1 - bottom / H, (right - left) / W, (bottom - top) / H])


phase = pd.concat([pd.DataFrame(pts, columns=["spliced", "unspliced"]).assign(cell=name) for name, pts in
                   [("brown", brown_cells), ("green", green_cells), ("pale", pale_cells), ("red", red_cells), ("pink", pink_cells),
                    ("lime", lime_cells), ("gold", gold_cells), ("blue", blue_cells), ("teal", teal_cells)]])
cells = pd.DataFrame([c for group in umap_groups for c in group], columns=["umap1", "umap2", "velocity", "expression"])
cells["velocity"] = cells["velocity"] / 1000
cells["expression"] = cells["expression"] / 100

fig = plt.figure(figsize=(W / DPI, H / DPI), dpi=DPI)

ax = place(fig, 129, 655, 84, 538)
sns.scatterplot(data=phase, x="spliced", y="unspliced", hue="cell", palette=cell_colors, s=3.4, linewidth=0, alpha=0.55, legend=False, ax=ax)
ax.plot(fit_spliced, fit_unspliced, color="purple", lw=2, solid_joinstyle="round", solid_capstyle="round")
ax.plot(steady_spliced, steady_unspliced, color="purple", lw=1, ls=(0, (4, 2.5)))
ax.set_xlim(-0.078, 1.711)
ax.set_ylim(-0.194, 4.076)
ax.set_xticks([0, 1])
ax.set_yticks([0, 2, 4])
ax.tick_params(labelsize=7, length=2.8, width=0.8, pad=2.5)
ax.set_xlabel("spliced", fontsize=9.5, labelpad=5.5)
ax.set_ylabel("unspliced", fontsize=9.5, labelpad=5)
ax.set_title("SEMA6D", fontsize=9.5, pad=6)

panels = [("velocity", "RdYlGn", (-0.08, 0.08), 918, velocity_ticks, velocity_labels),
          ("expression", "gnuplot_r", (0.007, 0.618), 1709, expression_ticks, expression_labels)]
for name, cmap, limits, left, ticks, labels in panels:
    ax = place(fig, left, left + 526, 84, 538)
    sns.scatterplot(data=cells, x="umap1", y="umap2", hue=name, palette=cmap, hue_norm=limits, s=4.6, linewidth=0, alpha=0.8, legend=False, ax=ax)
    ax.set_xlim(41.6, 1256.6)
    ax.set_ylim(1374, 12)
    ax.set_axis_off()
    ax.set_title(name, fontsize=9.5, pad=6, visible=True)
    cax = place(fig, left + 515, left + 526, 402, 540)
    bar = fig.colorbar(ScalarMappable(Normalize(*limits), cmap), cax=cax, ticks=ticks)
    bar.ax.set_yticklabels(labels)
    bar.ax.tick_params(labelsize=7, length=2.8, width=0.8, pad=4)
    bar.outline.set_linewidth(0.8)

fig.savefig("out.png", dpi=DPI)
